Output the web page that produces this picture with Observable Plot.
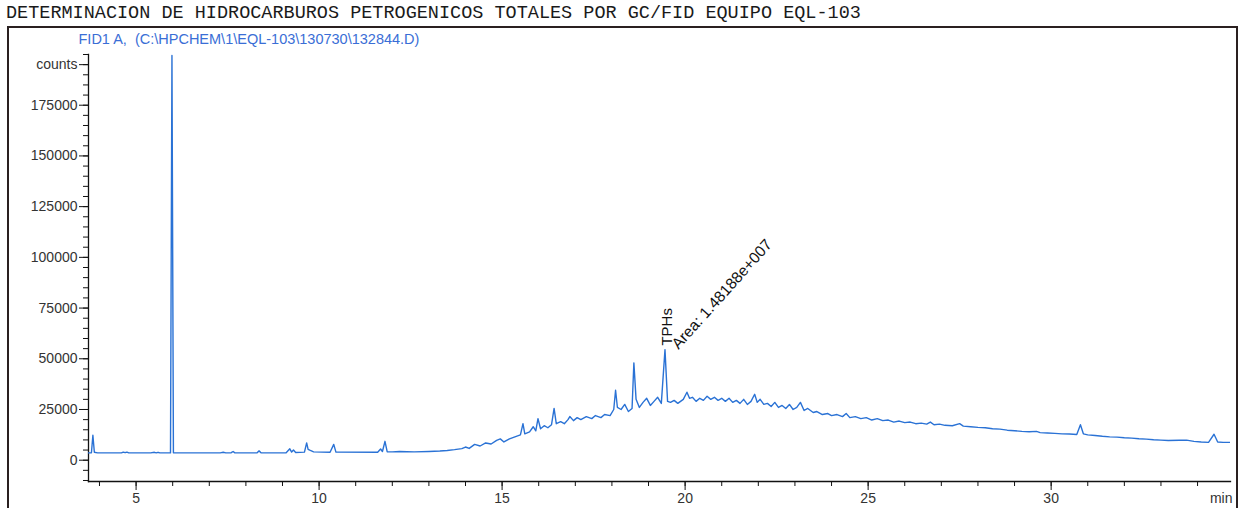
<!DOCTYPE html>
<html>
<head>
<meta charset="utf-8">
<script src="https://cdn.jsdelivr.net/npm/d3@7"></script>
<script src="https://cdn.jsdelivr.net/npm/@observablehq/plot@0.6"></script>
<style>
  html, body { margin: 0; padding: 0; background: #fff; width: 1240px; height: 508px; overflow: hidden; }
  #title { position: absolute; left: 6px; top: 5px; font-family: "Liberation Mono", "DejaVu Sans Mono", monospace; font-size: 18.5px; line-height: 18px; color: #1a1a1a; white-space: pre; }
  #box { position: absolute; left: 7px; top: 26px; width: 1227px; height: 490px; border: 2px solid #2a2020; border-bottom: none; }
  #box svg { display: block; overflow: visible; }
</style>
</head>
<body>
<div id="title"></div>
<div id="box"></div>
<script>
// ---- texts ----
const titleText = "DETERMINACION DE HIDROCARBUROS PETROGENICOS TOTALES POR GC/FID EQUIPO EQL-103";
const signalLabel = "FID1 A,  (C:\\HPCHEM\\1\\EQL-103\\130730\\132844.D)";
const yUnit = "counts";
const xUnit = "min";
const peakName = "TPHs";
const peakArea = "Area: 1.48188e+007";
const peakTime = 19.45;

// ---- tick values ----
const yLabelTicks = [0, 25000, 50000, 75000, 100000, 125000, 150000, 175000];
const yMinorTicks = [-10000, -5000, 0, 5000, 10000, 15000, 20000, 25000, 30000, 35000, 40000, 45000, 50000, 55000, 60000, 65000, 70000, 75000, 80000, 85000, 90000, 95000, 100000, 105000, 110000, 115000, 120000, 125000, 130000, 135000, 140000, 145000, 150000, 155000, 160000, 165000, 170000, 175000, 180000, 185000, 190000, 195000, 200000];
const xLabelTicks = [5, 10, 15, 20, 25, 30];
const xMinorTicks = [4, 5, 6, 7, 8, 9, 10, 11, 12, 13, 14, 15, 16, 17, 18, 19, 20, 21, 22, 23, 24, 25, 26, 27, 28, 29, 30, 31, 32, 33, 34];

// ---- chromatogram trace: [retention time (min), counts] ----
const earlyTrace = [
  [3.70, 3600], [3.78, 3700], [3.82, 12300], [3.86, 3900], [3.95, 3600],
  [4.60, 3600], [4.65, 4000], [4.70, 3700], [4.75, 4000], [4.80, 3600],
  [5.40, 3600], [5.50, 3900], [5.55, 3600], [5.60, 3900], [5.65, 3600],
  [5.94, 3600], [5.98, 199500], [6.02, 3700], [6.10, 3600],
  [7.30, 3600], [7.38, 3900], [7.45, 3600], [7.60, 3700], [7.65, 4300], [7.70, 3600],
  [8.30, 3600], [8.36, 4600], [8.42, 3600],
  [9.10, 3700], [9.20, 5600], [9.25, 4000], [9.30, 5000], [9.36, 3800],
  [9.60, 4000], [9.66, 8500], [9.70, 5300], [9.76, 4800], [9.85, 4100],
  [10.30, 3900], [10.40, 7800], [10.46, 4000],
  [11.60, 3900], [11.68, 5500], [11.73, 4300], [11.80, 9300], [11.86, 4200],
  [12.00, 4100], [12.20, 4300], [12.60, 4100], [13.00, 4300], [13.30, 4500]
];
const humpTrace = [
  [13.5, 4800], [13.7, 5200], [13.9, 5700], [14.0, 6500], [14.1, 5800], [14.25, 7800],
  [14.4, 7000], [14.55, 8500], [14.7, 8000], [14.85, 9800], [14.95, 10500], [15.05, 9000],
  [15.2, 10500], [15.35, 11500], [15.5, 12500], [15.57, 18000], [15.62, 13000], [15.75, 14000],
  [15.85, 16500], [15.92, 14500], [15.98, 20500], [16.05, 15500], [16.15, 17000], [16.25, 16000],
  [16.35, 17500], [16.42, 25500], [16.48, 18000], [16.6, 19000], [16.7, 18000], [16.8, 20000],
  [16.85, 21500], [16.95, 19500], [17.05, 21000], [17.15, 20000], [17.3, 21500], [17.45, 20500],
  [17.55, 22000], [17.7, 21000], [17.8, 22500], [17.95, 22000], [18.05, 25000], [18.1, 34500],
  [18.15, 26000], [18.25, 25000], [18.35, 27500], [18.45, 24000], [18.55, 25500], [18.6, 48000],
  [18.66, 30000], [18.75, 26000], [18.85, 28500], [18.95, 30500], [19.05, 27000], [19.15, 29000],
  [19.25, 31000], [19.35, 28000], [19.45, 54500], [19.52, 29000], [19.6, 28500], [19.7, 29500],
  [19.8, 28000], [19.95, 30000], [20.05, 33500], [20.12, 30500], [20.2, 31000], [20.3, 29000],
  [20.4, 30500], [20.5, 29500], [20.6, 31500], [20.7, 30000], [20.8, 31000], [20.9, 29500],
  [21.0, 30500], [21.1, 29000], [21.2, 30500], [21.3, 28500], [21.4, 29500], [21.5, 28000],
  [21.6, 30000], [21.7, 27500], [21.8, 29000], [21.9, 32500], [21.97, 28500], [22.05, 30000],
  [22.15, 27500], [22.25, 28000], [22.35, 26500], [22.45, 28500], [22.55, 26000], [22.65, 27000],
  [22.75, 25500], [22.85, 27500], [22.95, 25000], [23.05, 26000], [23.15, 28500], [23.25, 24500],
  [23.35, 25500], [23.5, 23500], [23.6, 24000], [23.75, 22500], [23.9, 23000], [24.0, 22000],
  [24.15, 22500], [24.3, 21500], [24.4, 23000], [24.5, 21000], [24.65, 21500], [24.8, 20500],
  [24.95, 21000], [25.1, 19800], [25.25, 20500], [25.4, 19500], [25.55, 19800], [25.7, 18800],
  [25.85, 19300], [26.0, 18500], [26.15, 18800], [26.3, 18000], [26.45, 18300], [26.6, 17800],
  [26.7, 18800], [26.8, 17500], [26.95, 17800]
];
const tailTrace = [
  [27.1, 17200], [27.3, 17000], [27.5, 18000], [27.6, 16800], [27.8, 16500], [28.0, 16200],
  [28.2, 16000], [28.4, 15500], [28.6, 15300], [28.8, 14800], [29.0, 14500], [29.2, 14200],
  [29.4, 14000], [29.6, 14200], [29.7, 13600], [29.9, 13400], [30.1, 13200], [30.3, 13000],
  [30.5, 12900], [30.7, 12700], [30.8, 17500], [30.88, 13000], [31.0, 12500], [31.2, 12200],
  [31.4, 11800], [31.6, 11500], [31.8, 11400], [32.0, 11100], [32.2, 10900], [32.4, 10600],
  [32.6, 10400], [32.8, 10100], [33.0, 9900], [33.2, 9700], [33.5, 9800], [33.7, 9900],
  [33.9, 9300], [34.1, 9000], [34.3, 8800], [34.45, 12800], [34.55, 9000], [34.7, 8800], [34.9, 8800]
];

const trace = [...earlyTrace, ...humpTrace, ...tailTrace].map(([t, c]) => ({t, c}));

document.getElementById("title").textContent = titleText;

const axisFont = "Arial, 'Liberation Sans', sans-serif";
const chart = Plot.plot({
  width: 1227,
  height: 480,
  marginLeft: 79,
  marginRight: 6,
  marginTop: 26,
  marginBottom: 27,
  style: { fontFamily: axisFont, fontSize: "14px", background: "transparent", color: "#222", overflow: "visible" },
  x: { domain: [3.7, 34.9] },
  y: { domain: [-10500, 200000] },
  marks: [
    Plot.frame({ anchor: "left", stroke: "#111", strokeWidth: 1.3 }),
    Plot.frame({ anchor: "bottom", stroke: "#111", strokeWidth: 1.3 }),
    Plot.axisY({ ticks: yMinorTicks, tickSize: 5, text: null, label: null, stroke: "#111" }),
    Plot.axisY({ ticks: yLabelTicks, tickSize: 9, tickPadding: 2, tickFormat: d => String(d), label: null, stroke: "#111", fill: "#333", fontSize: 14 }),
    Plot.axisY({ ticks: [195000], tickSize: 9, tickPadding: 2, tickFormat: () => yUnit, label: null, stroke: "#111", fill: "#333", fontSize: 14 }),
    Plot.axisX({ ticks: xMinorTicks, tickSize: 5, text: null, label: null, stroke: "#111" }),
    Plot.axisX({ ticks: xLabelTicks, tickSize: 9, tickPadding: 3, tickFormat: d => String(d), label: null, stroke: "#111", fill: "#333", fontSize: 14 }),
    Plot.text([xUnit], { frameAnchor: "bottom-right", textAnchor: "end", lineAnchor: "top", dy: 12, dx: 2, fill: "#333", fontSize: 14 }),
    Plot.text([signalLabel], { frameAnchor: "top-left", textAnchor: "start", lineAnchor: "bottom", dx: -10, dy: -11, fill: "#3a6ed6", fontSize: 14.5 }),
    Plot.line(trace, { x: "t", y: "c", stroke: "#2a72d5", strokeWidth: 1.4, clip: true }),
    Plot.text([peakName], { x: () => peakTime, y: () => 56500, rotate: -90, textAnchor: "start", dx: 2, fill: "#111", fontSize: 15 }),
    Plot.text([peakArea], { x: () => peakTime + 0.27, y: () => 56000, rotate: -48, textAnchor: "start", fill: "#111", fontSize: 15.5 })
  ]
});
document.getElementById("box").appendChild(chart);
</script>
</body>
</html>
